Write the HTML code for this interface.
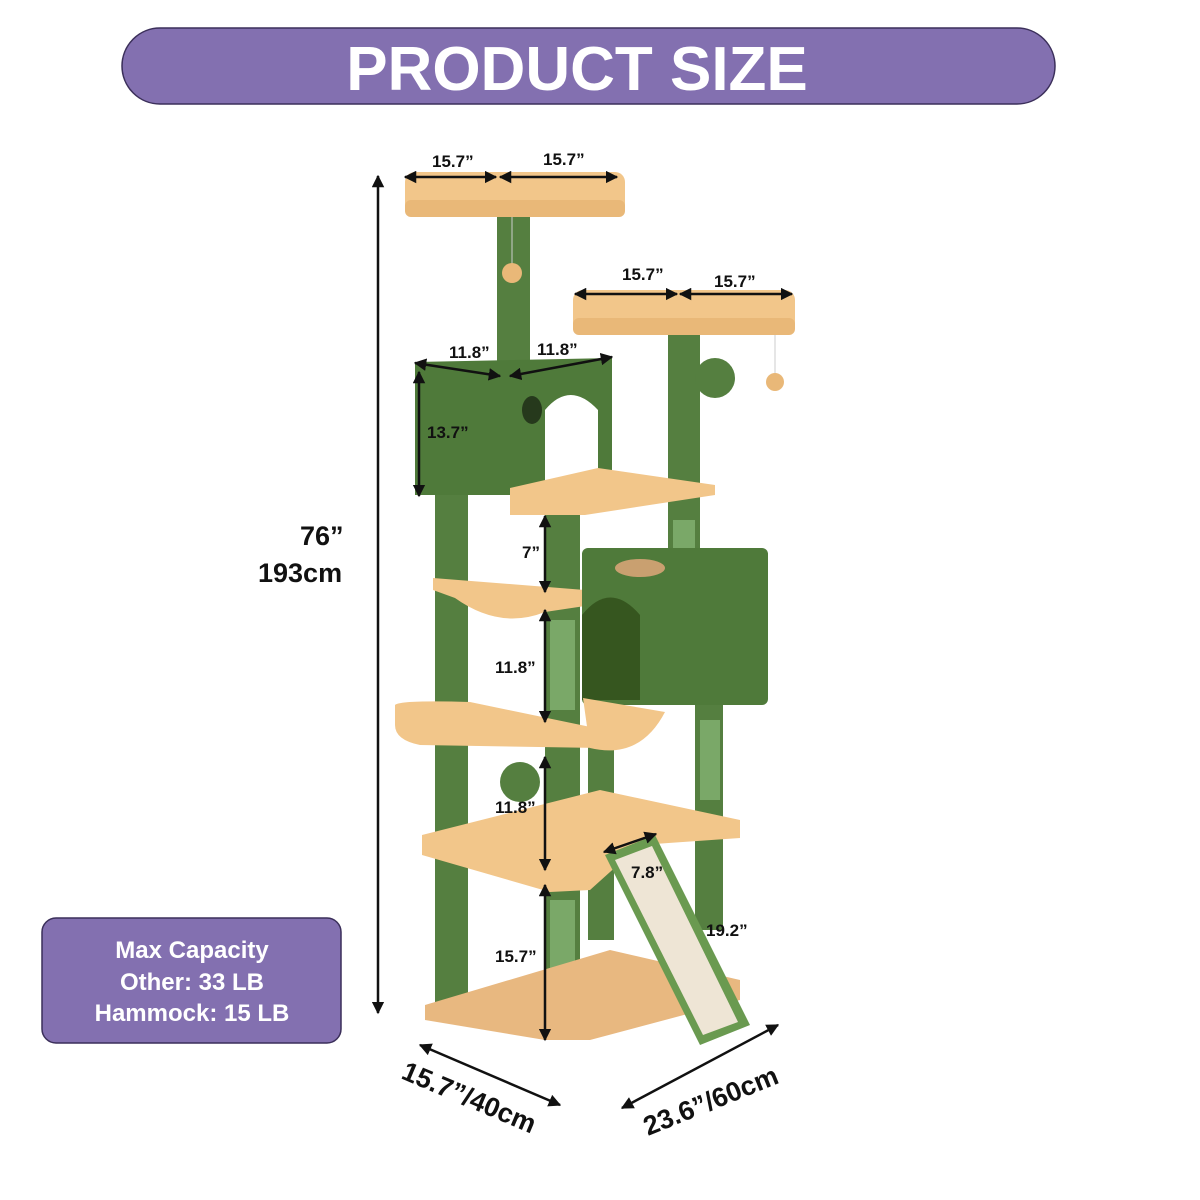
<!DOCTYPE html>
<html><head><style>body{margin:0;background:#fff}svg{display:block}</style></head><body>
<svg width="1200" height="1200" viewBox="0 0 1200 1200" xmlns="http://www.w3.org/2000/svg" font-family="Liberation Sans, sans-serif">
<defs><marker id="a" viewBox="0 0 10 10" refX="9" refY="5" markerWidth="5" markerHeight="5" orient="auto-start-reverse"><path d="M0,0L10,5L0,10z" fill="#111"/></marker></defs>
<rect x="122" y="28" width="933" height="76" rx="38" fill="#8370b0" stroke="#3b2f5a" stroke-width="1.5"/>
<text x="577" y="90" font-size="62" font-weight="bold" fill="#fff" text-anchor="middle">PRODUCT SIZE</text>
<rect x="42" y="918" width="299" height="125" rx="14" fill="#8370b0" stroke="#3b2f5a" stroke-width="1.5"/>
<g font-size="24" font-weight="bold" fill="#fff" text-anchor="middle"><text x="192" y="958">Max Capacity</text><text x="192" y="990">Other: 33 LB</text><text x="192" y="1021">Hammock: 15 LB</text></g>
<!-- posts -->
<g fill="#557f40">
<rect x="497" y="212" width="33" height="150"/><rect x="668" y="333" width="32" height="255"/>
<rect x="435" y="495" width="33" height="520"/><rect x="545" y="510" width="35" height="505"/>
<rect x="588" y="700" width="26" height="240"/><rect x="695" y="700" width="28" height="230"/>
<circle cx="715" cy="378" r="20"/><circle cx="520" cy="782" r="20"/>
</g>
<rect x="673" y="520" width="22" height="60" fill="#7aa868"/><rect x="550" y="620" width="25" height="90" fill="#7aa868"/><rect x="550" y="900" width="25" height="100" fill="#7aa868"/><rect x="700" y="720" width="20" height="80" fill="#7aa868"/>
<!-- top platforms -->
<rect x="405" y="172" width="220" height="45" rx="10" fill="#f2c68a"/><rect x="405" y="200" width="220" height="17" rx="6" fill="#e9b878"/>
<rect x="573" y="290" width="222" height="45" rx="10" fill="#f2c68a"/><rect x="573" y="318" width="222" height="17" rx="6" fill="#e9b878"/>
<line x1="512" y1="217" x2="512" y2="270" stroke="#ccc"/><circle cx="512" cy="273" r="10" fill="#e9b878"/>
<line x1="775" y1="335" x2="775" y2="375" stroke="#ccc"/><circle cx="775" cy="382" r="9" fill="#e9b878"/>
<!-- upper house -->
<path d="M415,362 L612,358 L612,485 L598,485 L598,410 Q570,380 545,410 L545,485 L520,495 L415,495Z" fill="#4f7a3a"/>
<ellipse cx="532" cy="410" rx="10" ry="14" fill="#26391c"/>
<path d="M510,488 L598,468 L715,485 L715,495 L585,515 L510,515Z" fill="#f2c68a"/>
<!-- hammock -->
<path d="M433,578 L585,590 L585,606 L545,612 Q500,630 455,598 L433,590Z" fill="#f2c68a"/>
<!-- lower house -->
<rect x="582" y="548" width="186" height="157" rx="6" fill="#4f7a3a"/>
<path d="M582,700 L582,615 Q610,580 640,615 L640,700Z" fill="#36561f"/>
<ellipse cx="640" cy="568" rx="25" ry="9" fill="#c9a070"/>
<path d="M583,698 L665,712 Q640,760 590,748Z" fill="#f2c68a"/>
<!-- middle platforms -->
<path d="M395,705 Q400,700 470,702 L605,730 L600,748 L420,745 Q395,740 395,725Z" fill="#f2c68a"/>
<path d="M422,835 L600,790 L740,820 L740,838 L640,845 L590,890 L550,892 L422,855Z" fill="#f2c68a"/>
<!-- base -->
<path d="M425,1005 L610,950 L740,980 L740,1000 L590,1040 L545,1040 L425,1020Z" fill="#e8b880"/>
<!-- ramp -->
<path d="M605,855 L655,835 L750,1025 L700,1045Z" fill="#6a9a50"/>
<path d="M615,860 L652,846 L738,1022 L703,1035Z" fill="#eee5d5"/>
<!-- dimension lines -->
<g stroke="#111" stroke-width="2.5" marker-start="url(#a)" marker-end="url(#a)" fill="none">
<line x1="378" y1="176" x2="378" y2="1013"/>
<line x1="405" y1="177" x2="496" y2="177"/><line x1="500" y1="177" x2="617" y2="177"/>
<line x1="575" y1="294" x2="677" y2="294"/><line x1="680" y1="294" x2="792" y2="294"/>
<line x1="415" y1="363" x2="500" y2="376"/><line x1="510" y1="376" x2="612" y2="357"/>
<line x1="419" y1="372" x2="419" y2="496"/>
<line x1="545" y1="516" x2="545" y2="592"/><line x1="545" y1="610" x2="545" y2="722"/>
<line x1="545" y1="757" x2="545" y2="870"/><line x1="545" y1="885" x2="545" y2="1040"/>
<line x1="604" y1="852" x2="656" y2="834"/>
<line x1="420" y1="1045" x2="560" y2="1105"/><line x1="622" y1="1108" x2="778" y2="1025"/>
</g>
<g font-size="17" font-weight="bold" fill="#111">
<text x="432" y="167">15.7”</text><text x="543" y="165">15.7”</text>
<text x="622" y="280">15.7”</text><text x="714" y="287">15.7”</text>
<text x="449" y="358">11.8”</text><text x="537" y="355">11.8”</text>
<text x="427" y="438">13.7”</text>
<text x="522" y="558">7”</text><text x="495" y="673">11.8”</text><text x="495" y="813">11.8”</text>
<text x="495" y="962">15.7”</text><text x="631" y="878">7.8”</text><text x="706" y="936">19.2”</text>
</g>
<text x="300" y="545" font-size="27" font-weight="bold" fill="#111">76”</text>
<text x="258" y="582" font-size="27" font-weight="bold" fill="#111">193cm</text>
<text transform="translate(400,1078) rotate(23)" font-size="27" font-weight="bold" fill="#111">15.7”/40cm</text>
<text transform="translate(648,1136) rotate(-22)" font-size="27" font-weight="bold" fill="#111">23.6”/60cm</text>
</svg>
</body></html>
